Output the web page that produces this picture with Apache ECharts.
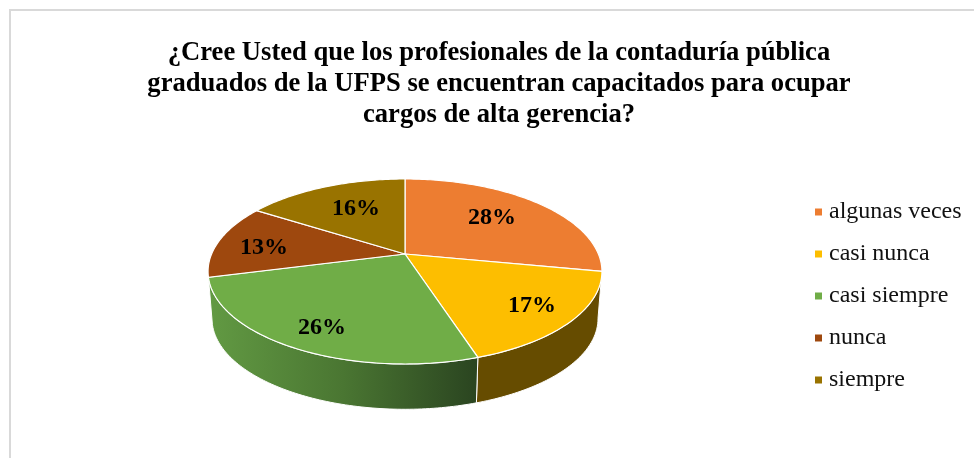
<!DOCTYPE html>
<html>
<head>
<meta charset="utf-8">
<script src="https://cdn.jsdelivr.net/npm/echarts@6/dist/echarts.min.js"></script>
<style>
  html, body { margin: 0; padding: 0; background: #fff; }
  #chart { width: 974px; height: 458px; }
</style>
</head>
<body>
<div id="chart"></div>
<script>
const titleLines = [
  "¿Cree Usted que los profesionales de la contaduría pública",
  "graduados de la UFPS se encuentran capacitados para ocupar",
  "cargos de alta gerencia?",
];
const categories = ["algunas veces", "casi nunca", "casi siempre", "nunca", "siempre"];
const percents = [28, 17, 26, 13, 16];
const topColors = ["#ED7D31", "#FDBE00", "#70AD47", "#9E480E", "#997300"];
const labelSpots = [[492, 218], [532, 306], [322, 328], [264, 248], [356, 209]];

const serif = '"Liberation Serif", serif';
const wallGreen = new echarts.graphic.LinearGradient(0, 0, 1, 0, [
  { offset: 0, color: "#629A43" },
  { offset: 0.5, color: "#4A7632" },
  { offset: 1, color: "#2A4420" },
]);
const wallFills = [null, "#664C00", wallGreen, null, null];

// the 3d look: a tilted circle projected with some perspective
const persp = 0.189;
function project(deg, cx, cy, scale) {
  const a = (deg * Math.PI) / 180;
  const u = Math.sin(a);
  const v = -Math.cos(a);
  const w = 1 - persp * v;
  return [cx + (193.4 * scale * u) / w, cy + (89.2 * scale * v) / w];
}
function arc(from, to, cx, cy, scale) {
  const pts = [];
  const n = Math.ceil(to - from);
  for (let i = 0; i <= n; i++) {
    pts.push(project(from + ((to - from) * i) / n, cx, cy, scale));
  }
  return pts;
}

const total = percents.reduce((s, p) => s + p, 0);
let running = 0;
const series = categories.map((name, i) => {
  const start = (running / total) * 360;
  running += percents[i];
  const end = (running / total) * 360;
  return {
    name: name,
    type: "custom",
    coordinateSystem: "none",
    itemStyle: { color: topColors[i] },
    data: [percents[i]],
    silent: true,
    renderItem: function () {
      const children = [];
      if (wallFills[i]) {
        const wall = arc(start, end, 405, 254, 1).concat(arc(start, end, 405, 301.5, 0.98).reverse());
        children.push({
          type: "polygon",
          shape: { points: wall },
          style: { fill: wallFills[i], stroke: "#fff", lineWidth: 1 },
        });
      }
      children.push({
        type: "polygon",
        shape: { points: [[405, 254]].concat(arc(start, end, 405, 254, 1)) },
        style: { fill: topColors[i], stroke: "#fff", lineWidth: 1.2 },
      });
      children.push({
        type: "text",
        z2: 10,
        style: {
          text: percents[i] + "%",
          x: labelSpots[i][0],
          y: labelSpots[i][1],
          align: "center",
          verticalAlign: "middle",
          fill: "#000",
          font: "bold 24px " + serif,
        },
      });
      return { type: "group", children: children };
    },
  };
});

const chart = echarts.init(document.getElementById("chart"));
chart.setOption({
  animation: false,
  backgroundColor: "#fff",
  title: {
    text: titleLines.join("\n"),
    left: 494,
    top: 33,
    textAlign: "center",
    textStyle: { fontFamily: serif, fontWeight: "bold", fontSize: 26.6, lineHeight: 31, color: "#000" },
  },
  legend: {
    orient: "vertical",
    left: 815,
    top: 199,
    padding: 0,
    icon: "rect",
    itemWidth: 7,
    itemHeight: 7,
    itemGap: 16,
    selectedMode: false,
    data: categories,
    textStyle: { fontFamily: serif, fontSize: 24, color: "#111", lineHeight: 26, padding: [0, 0, 0, 2] },
  },
  graphic: [
    {
      type: "polyline",
      silent: true,
      shape: { points: [[10, 458], [10, 10], [974, 10]] },
      style: { stroke: "#D9D9D9", lineWidth: 2, fill: null },
    },
  ],
  series: series,
});
</script>
</body>
</html>
